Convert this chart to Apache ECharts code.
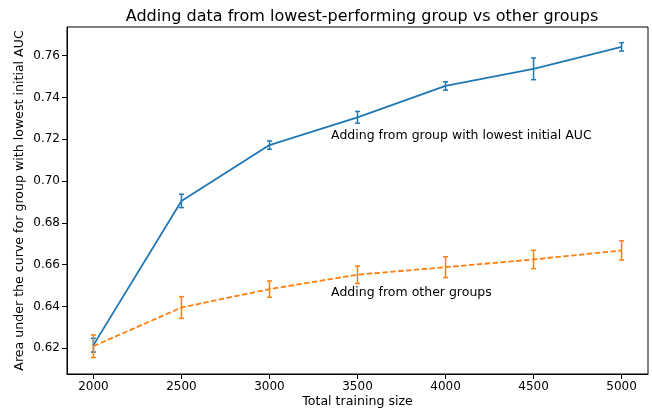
<!DOCTYPE html>
<html><head><meta charset="utf-8">
<script src="https://cdn.jsdelivr.net/npm/echarts@6/dist/echarts.min.js"></script>
<style>html,body{margin:0;padding:0;background:#fff}#c{width:652px;height:413px}</style>
</head><body><div id="c"></div>
<script>
const sizes = [2000, 2500, 3000, 3500, 4000, 4500, 5000];
const lowestMean = [0.6215, 0.6905, 0.7172, 0.7305, 0.7455, 0.7537, 0.7642];
const lowestErr  = [0.0033, 0.0032, 0.0020, 0.0028, 0.0020, 0.0052, 0.0020];
const otherMean  = [0.6210, 0.6395, 0.6483, 0.6552, 0.6588, 0.6625, 0.6668];
const otherErr   = [0.0054, 0.0052, 0.0039, 0.0042, 0.0050, 0.0044, 0.0046];
const xTicks = [2000, 2500, 3000, 3500, 4000, 4500, 5000];
const yTicks = [0.62, 0.64, 0.66, 0.68, 0.70, 0.72, 0.74, 0.76];
const notes = [
  {x: 3350, y: 0.72, text: 'Adding from group with lowest initial AUC'},
  {x: 3350, y: 0.645, text: 'Adding from other groups'}
];
const BLUE = '#1f77b4', ORANGE = '#ff7f0e';
const font = 'DejaVu Sans';

function errSeries(means, errs, color) {
  return {
    type: 'custom',
    data: sizes.map((s, i) => [s, means[i] - errs[i], means[i] + errs[i]]),
    renderItem: function (params, api) {
      const lo = api.coord([api.value(0), api.value(1)]);
      const hi = api.coord([api.value(0), api.value(2)]);
      const w = 2.5;
      const st = {stroke: color, lineWidth: 1.5};
      return {type: 'group', children: [
        {type: 'line', shape: {x1: lo[0], y1: lo[1], x2: hi[0], y2: hi[1]}, style: st},
        {type: 'line', shape: {x1: lo[0]-w, y1: lo[1], x2: lo[0]+w, y2: lo[1]}, style: st},
        {type: 'line', shape: {x1: hi[0]-w, y1: hi[1], x2: hi[0]+w, y2: hi[1]}, style: st}
      ]};
    },
    z: 3, silent: true
  };
}

const chart = echarts.init(document.getElementById('c'), null, {renderer: 'canvas'});
chart.setOption({
  animation: false,
  backgroundColor: '#fff',
  title: {text: 'Adding data from lowest-performing group vs other groups', left: 357, textAlign: 'center', top: 4,
    textStyle: {fontFamily: font, fontSize: 16, fontWeight: 'normal', color: '#000'}},
  grid: {left: 67, right: 4, top: 27, bottom: 39, show: true, borderColor: '#000', borderWidth: 1},
  xAxis: {
    type: 'value', min: 1850, max: 5150,
    name: 'Total training size', nameLocation: 'middle', nameGap: 21, nameMoveOverlap: false,
    nameTextStyle: {fontFamily: font, fontSize: 12.6, color: '#000'},
    axisLine: {show: true, lineStyle: {color: '#000', width: 1}},
    axisTick: {show: true, customValues: xTicks, length: 5, lineStyle: {color: '#000'}},
    axisLabel: {customValues: xTicks, fontFamily: font, fontSize: 12, color: '#000', margin: 7,
      formatter: v => String(v)},
    splitLine: {show: false}
  },
  yAxis: {
    type: 'value', min: 0.6077, max: 0.7737,
    name: 'Area under the curve for group with lowest initial AUC', nameLocation: 'middle', nameGap: 41,
    nameMoveOverlap: false,
    nameTextStyle: {fontFamily: font, fontSize: 12.6, color: '#000'},
    axisLine: {show: true, lineStyle: {color: '#000', width: 1}},
    axisTick: {show: true, customValues: yTicks, length: 5, lineStyle: {color: '#000'}},
    axisLabel: {customValues: yTicks, fontFamily: font, fontSize: 12, color: '#000', margin: 7,
      formatter: v => v.toFixed(2)},
    splitLine: {show: false}
  },
  series: [
    {type: 'line', data: sizes.map((s, i) => [s, lowestMean[i]]), symbol: 'none',
      lineStyle: {color: BLUE, width: 1.8}, z: 4},
    errSeries(lowestMean, lowestErr, BLUE),
    {type: 'line', data: sizes.map((s, i) => [s, otherMean[i]]), symbol: 'none',
      lineStyle: {color: ORANGE, width: 1.8, type: [5.5, 2.4]}, z: 4},
    errSeries(otherMean, otherErr, ORANGE),
    {type: 'scatter', symbolSize: 0, silent: true, itemStyle: {opacity: 1},
      data: notes.map(n => ({value: [n.x, n.y], label: {formatter: n.text, color: '#000'}})),
      label: {show: true, position: [0, 0], align: 'left', verticalAlign: 'bottom', opacity: 1,
        fontFamily: font, fontSize: 12.5, color: '#000', offset: [0, 3]}}
  ]
});
</script></body></html>
